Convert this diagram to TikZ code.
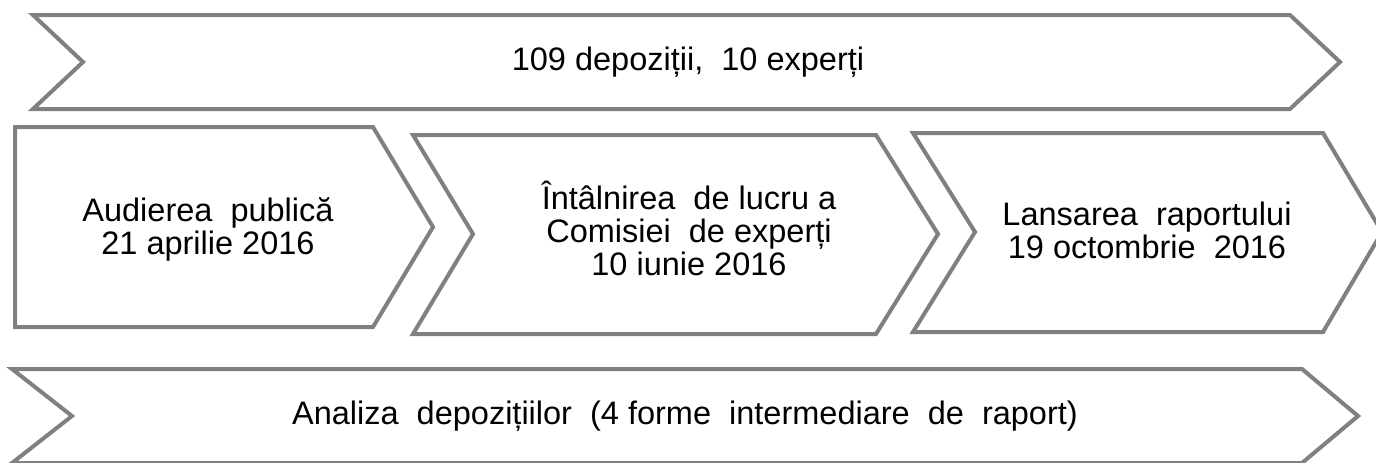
\documentclass[tikz,border=0pt]{standalone}
\usepackage{fontspec}
\setmainfont{Liberation Sans}
\tikzset{
  chev/.style={draw=chevgray, line width=4pt, line join=miter, fill=white},
  lbl/.style={align=center, font=\fontsize{32.5}{33}\selectfont, inner sep=0pt, text=black},
}
\definecolor{chevgray}{HTML}{808080}
\begin{document}
\begin{tikzpicture}[x=1pt,y=-1pt]
\useasboundingbox (0,0) rectangle (1376,463);
\fill[white] (0,0) rectangle (1376,463);
% top band
\draw[chev] (33,15) -- (1290,15) -- (1340,62) -- (1290,109) -- (33,109) -- (83,62) -- cycle;
\node[lbl] (top) at (688,62) {109 depoziții,\ \ 10 experți};
% middle row
\draw[chev] (15,127) -- (373,127) -- (433,227) -- (373,327) -- (15,327) -- cycle;
\node[lbl] (b1) at (208,229) {Audierea\ \ publică\\21 aprilie 2016};
\draw[chev] (413,135) -- (876,135) -- (938,234) -- (876,334) -- (413,334) -- (473,234) -- cycle;
\node[lbl] (b2) at (689,228) {Întâlnirea\ \ de lucru a\\Comisiei\ \ de experți\\10 iunie 2016};
\draw[chev] (913,133) -- (1323,133) -- (1382,232) -- (1323,332) -- (913,332) -- (975,232) -- cycle;
\node[lbl] (b3) at (1147,230) {Lansarea\ \ raportului\\19 octombrie\ \ 2016};
% bottom band
\draw[chev] (12,369) -- (1302,369) -- (1358,416) -- (1302,463) -- (12,463) -- (72,416) -- cycle;
\node[lbl] (bot) at (685,416) {Analiza\ \ depozițiilor\ \ (4 forme\ \ intermediare\ \ de\ \ raport)};
\end{tikzpicture}
\end{document}
